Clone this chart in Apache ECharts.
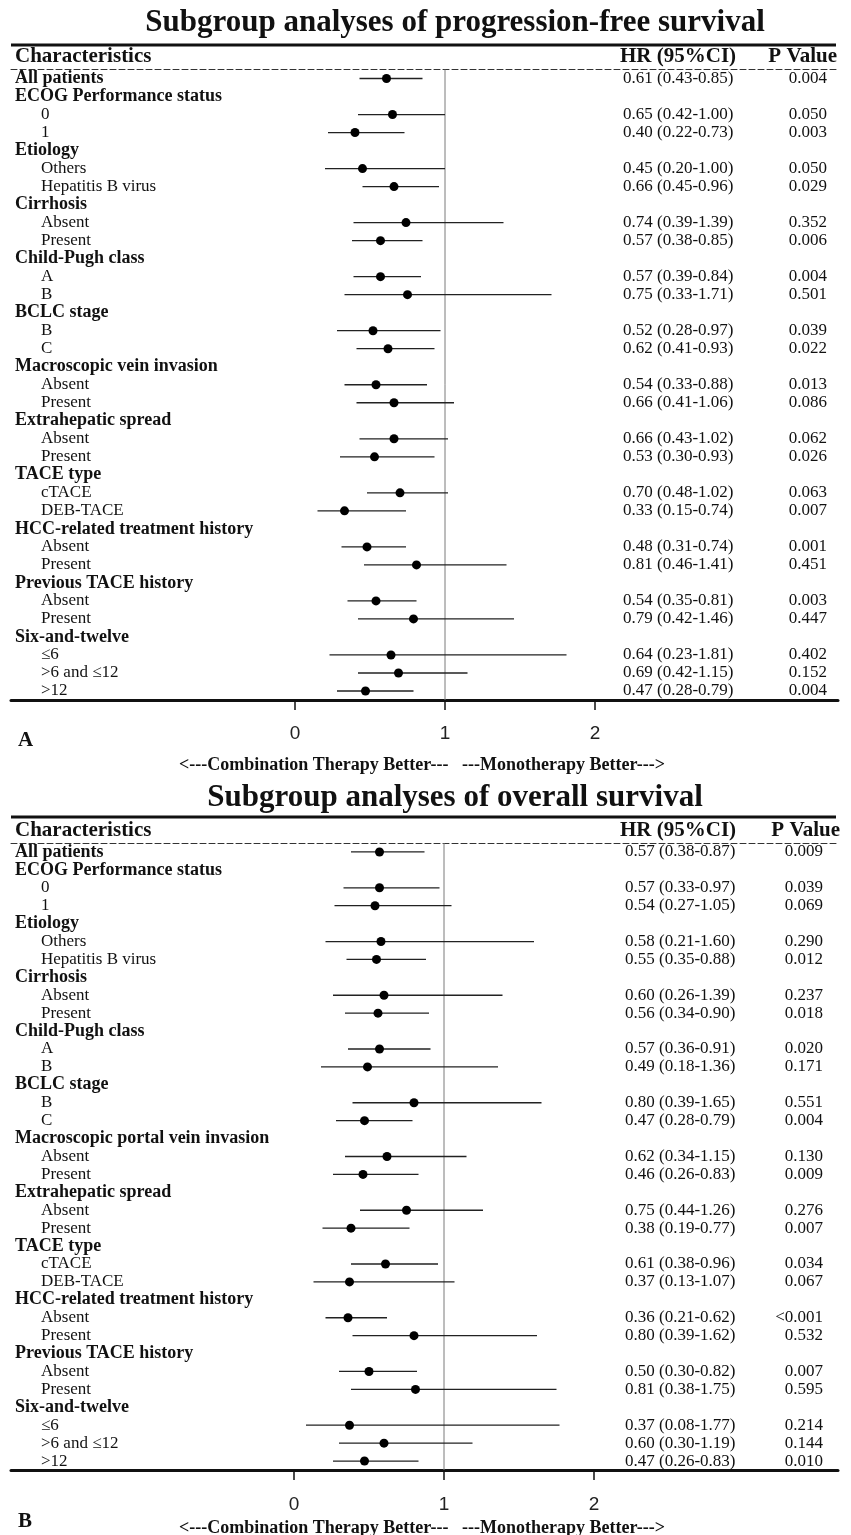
<!DOCTYPE html>
<html>
<head>
<meta charset="utf-8">
<script src="https://cdn.jsdelivr.net/npm/echarts@6/dist/echarts.min.js"></script>
<style>
html,body{margin:0;padding:0;background:#fff;}
#chart{width:851px;height:1535px;}
</style>
</head>
<body>
<div id="chart"></div>
<script>
// ---------- DATA ----------
const rowsA = ['All patients','ECOG Performance status','0','1','Etiology','Others','Hepatitis B virus','Cirrhosis','Absent','Present','Child-Pugh class','A','B','BCLC stage','B','C','Macroscopic vein invasion','Absent','Present','Extrahepatic spread','Absent','Present','TACE type','cTACE','DEB-TACE','HCC-related treatment history','Absent','Present','Previous TACE history','Absent','Present','Six-and-twelve','≤6','>6 and ≤12','>12'];
const rowsB = ['All patients','ECOG Performance status','0','1','Etiology','Others','Hepatitis B virus','Cirrhosis','Absent','Present','Child-Pugh class','A','B','BCLC stage','B','C','Macroscopic portal vein invasion','Absent','Present','Extrahepatic spread','Absent','Present','TACE type','cTACE','DEB-TACE','HCC-related treatment history','Absent','Present','Previous TACE history','Absent','Present','Six-and-twelve','≤6','>6 and ≤12','>12'];
// 1 = subgroup header (bold), 0 = indented level
const isGroup = [1,1,0,0,1,0,0,1,0,0,1,0,0,1,0,0,1,0,0,1,0,0,1,0,0,1,0,0,1,0,0,1,0,0,0];

// Panel A: progression-free survival
const hrA = [0.61,null,0.65,0.40,null,0.45,0.66,null,0.74,0.57,null,0.57,0.75,null,0.52,0.62,null,0.54,0.66,null,0.66,0.53,null,0.70,0.33,null,0.48,0.81,null,0.54,0.79,null,0.64,0.69,0.47];
const loA = [0.43,null,0.42,0.22,null,0.20,0.45,null,0.39,0.38,null,0.39,0.33,null,0.28,0.41,null,0.33,0.41,null,0.43,0.30,null,0.48,0.15,null,0.31,0.46,null,0.35,0.42,null,0.23,0.42,0.28];
const hiA = [0.85,null,1.00,0.73,null,1.00,0.96,null,1.39,0.85,null,0.84,1.71,null,0.97,0.93,null,0.88,1.06,null,1.02,0.93,null,1.02,0.74,null,0.74,1.41,null,0.81,1.46,null,1.81,1.15,0.79];
const pA  = ['0.004',null,'0.050','0.003',null,'0.050','0.029',null,'0.352','0.006',null,'0.004','0.501',null,'0.039','0.022',null,'0.013','0.086',null,'0.062','0.026',null,'0.063','0.007',null,'0.001','0.451',null,'0.003','0.447',null,'0.402','0.152','0.004'];

// Panel B: overall survival
const hrB = [0.57,null,0.57,0.54,null,0.58,0.55,null,0.60,0.56,null,0.57,0.49,null,0.80,0.47,null,0.62,0.46,null,0.75,0.38,null,0.61,0.37,null,0.36,0.80,null,0.50,0.81,null,0.37,0.60,0.47];
const loB = [0.38,null,0.33,0.27,null,0.21,0.35,null,0.26,0.34,null,0.36,0.18,null,0.39,0.28,null,0.34,0.26,null,0.44,0.19,null,0.38,0.13,null,0.21,0.39,null,0.30,0.38,null,0.08,0.30,0.26];
const hiB = [0.87,null,0.97,1.05,null,1.60,0.88,null,1.39,0.90,null,0.91,1.36,null,1.65,0.79,null,1.15,0.83,null,1.26,0.77,null,0.96,1.07,null,0.62,1.62,null,0.82,1.75,null,1.77,1.19,0.83];
const pB  = ['0.009',null,'0.039','0.069',null,'0.290','0.012',null,'0.237','0.018',null,'0.020','0.171',null,'0.551','0.004',null,'0.130','0.009',null,'0.276','0.007',null,'0.034','0.067',null,'<0.001','0.532',null,'0.007','0.595',null,'0.214','0.144','0.010'];

const tickValues = [0, 1, 2];
const titleA = 'Subgroup analyses of progression-free survival';
const titleB = 'Subgroup analyses of overall survival';
const panelLetters = ['A', 'B'];
const favourText = '<---Combination Therapy Better---   ---Monotherapy Better--->';
const headers = ['Characteristics', 'HR (95%CI)', 'P Value'];

// ---------- LAYOUT ----------
const SERIF = '"Liberation Serif","Times New Roman",serif';
const SANS = '"Liberation Sans",Arial,sans-serif';
const INK = '#111';
const L = 11, R = 838;

const panels = [
  {rows: rowsA, hr: hrA, lo: loA, hi: hiA, p: pA, title: titleA, letter: panelLetters[0],
   titleY: 23, topLine: 45, headY: 57, gridTop: 69.5, gridBottom: 700, x0: 295, unit: 150,
   hrX: 623, pX: 827, pHeadX: 837, letterY: 741, favY: 765, labelMargin: 24},
  {rows: rowsB, hr: hrB, lo: loB, hi: hiB, p: pB, title: titleB, letter: panelLetters[1],
   titleY: 798, topLine: 817, headY: 831, gridTop: 843, gridBottom: 1470, x0: 294, unit: 150,
   hrX: 625, pX: 823, pHeadX: 840, letterY: 1522, favY: 1528, labelMargin: 25}
];

const grids = [], xAxes = [], yAxes = [], series = [], graphics = [];

panels.forEach((P, k) => {
  const xmin = (L - P.x0) / P.unit;
  const xmax = (R - P.x0) / P.unit;
  grids.push({left: L, width: R - L, top: P.gridTop, height: P.gridBottom - P.gridTop, containLabel: false});
  // bottom value axis
  xAxes.push({
    type: 'value', gridIndex: k, position: 'bottom', min: xmin, max: xmax,
    axisLine: {show: true, lineStyle: {color: INK, width: 3}},
    axisTick: {show: true, length: 10, customValues: tickValues, lineStyle: {color: INK, width: 1.5}},
    axisLabel: {show: true, customValues: tickValues, margin: P.labelMargin, fontFamily: SANS, fontSize: 19, color: '#222'},
    splitLine: {show: false}
  });
  // top dashed rule
  xAxes.push({
    type: 'value', gridIndex: k, position: 'top', min: xmin, max: xmax,
    axisLine: {show: true, lineStyle: {color: '#333', width: 1, type: [6, 3]}},
    axisTick: {show: false}, axisLabel: {show: false}, splitLine: {show: false}
  });
  yAxes.push({
    type: 'category', gridIndex: k, data: P.rows, inverse: true,
    axisLine: {show: false}, axisTick: {show: false}, splitLine: {show: false},
    axisLabel: {
      inside: true, margin: 4, interval: 0,
      formatter: (v, i) => isGroup[i] ? '{g|' + v + '}' : '{s|' + v + '}',
      rich: {
        g: {fontFamily: SERIF, fontWeight: 'bold', fontSize: 18, color: INK},
        s: {fontFamily: SERIF, fontSize: 17, color: INK, padding: [0, 0, 0, 26]}
      }
    }
  });
  const xi = k * 2;
  // reference line at HR = 1
  series.push({
    type: 'custom', xAxisIndex: xi, yAxisIndex: k, clip: false, silent: true,
    data: [[1, 0]],
    renderItem: (params, api) => {
      const cs = params.coordSys;
      const x = api.coord([api.value(0), 0])[0];
      return {type: 'line', shape: {x1: x, y1: cs.y, x2: x, y2: cs.y + cs.height},
              style: {stroke: '#7a7a7a', lineWidth: 1}};
    }
  });
  // estimates with CI + text columns
  const data = [];
  P.rows.forEach((_, i) => {
    if (P.hr[i] != null) data.push([P.hr[i], P.lo[i], P.hi[i], i]);
  });
  series.push({
    type: 'custom', xAxisIndex: xi, yAxisIndex: k, clip: false, silent: true,
    encode: {x: [0, 1, 2], y: 3},
    data: data,
    renderItem: (params, api) => {
      const r = api.value(3);
      const c = api.coord([api.value(0), r]);
      const a = api.coord([api.value(1), r]);
      const b = api.coord([api.value(2), r]);
      const y = c[1];
      const txt = P.hr[r].toFixed(2) + ' (' + P.lo[r].toFixed(2) + '-' + P.hi[r].toFixed(2) + ')';
      return {type: 'group', children: [
        {type: 'line', shape: {x1: a[0], y1: y, x2: b[0], y2: y}, style: {stroke: '#222', lineWidth: 1.3}},
        {type: 'circle', shape: {cx: c[0], cy: y, r: 4.5}, style: {fill: '#000'}},
        {type: 'text', x: P.hrX, y: y, style: {text: txt, font: '17px ' + SERIF, fill: INK, textAlign: 'left', textVerticalAlign: 'middle'}},
        {type: 'text', x: P.pX, y: y, style: {text: P.p[r], font: '17px ' + SERIF, fill: INK, textAlign: 'right', textVerticalAlign: 'middle'}}
      ]};
    }
  });
  // decorations & headings
  graphics.push(
    {type: 'text', x: 455, y: P.titleY, style: {text: P.title, font: 'bold 31px ' + SERIF, fill: INK, textAlign: 'center', textVerticalAlign: 'middle'}},
    {type: 'line', shape: {x1: L, y1: P.topLine, x2: R - 2, y2: P.topLine}, style: {stroke: INK, lineWidth: 3}},
    {type: 'text', x: 15, y: P.headY, style: {text: headers[0], font: 'bold 21px ' + SERIF, fill: INK, textAlign: 'left', textVerticalAlign: 'middle'}},
    {type: 'text', x: 620, y: P.headY, style: {text: headers[1], font: 'bold 21px ' + SERIF, fill: INK, textAlign: 'left', textVerticalAlign: 'middle'}},
    {type: 'text', x: P.pHeadX, y: P.headY, style: {text: headers[2], font: 'bold 21px ' + SERIF, fill: INK, textAlign: 'right', textVerticalAlign: 'middle'}},
    {type: 'text', x: 18, y: P.letterY, style: {text: P.letter, font: 'bold 21px ' + SERIF, fill: INK, textAlign: 'left', textVerticalAlign: 'middle'}},
    {type: 'text', x: 422, y: P.favY, style: {text: favourText, font: 'bold 18px ' + SERIF, fill: INK, textAlign: 'center', textVerticalAlign: 'middle'}}
  );
});

const chart = echarts.init(document.getElementById('chart'), null, {renderer: 'canvas'});
chart.setOption({
  backgroundColor: '#fff',
  animation: false,
  grid: grids,
  xAxis: xAxes,
  yAxis: yAxes,
  series: series,
  graphic: graphics
});
</script>
</body>
</html>
